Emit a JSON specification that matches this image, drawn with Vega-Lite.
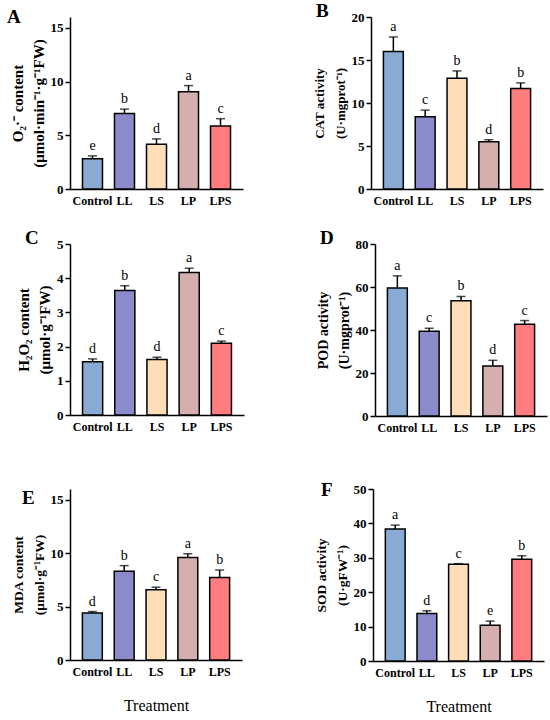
{
  "$schema": "https://vega.github.io/schema/vega-lite/v6.json",
  "padding": {"left": 7, "top": 2, "right": 4, "bottom": 4},
  "background": "white",
  "datasets": {
    "enzymes": [
      {"panel": "A", "treatment": "Control", "mean": 2.82, "upper": 3.08, "letter": "e"},
      {"panel": "A", "treatment": "LL", "mean": 7.02, "upper": 7.43, "letter": "b"},
      {"panel": "A", "treatment": "LS", "mean": 4.17, "upper": 4.66, "letter": "d"},
      {"panel": "A", "treatment": "LP", "mean": 9.05, "upper": 9.62, "letter": "a"},
      {"panel": "A", "treatment": "LPS", "mean": 5.87, "upper": 6.54, "letter": "c"},
      {"panel": "B", "treatment": "Control", "mean": 15.98, "upper": 17.68, "letter": "a"},
      {"panel": "B", "treatment": "LL", "mean": 8.39, "upper": 9.17, "letter": "c"},
      {"panel": "B", "treatment": "LS", "mean": 12.88, "upper": 13.73, "letter": "b"},
      {"panel": "B", "treatment": "LP", "mean": 5.49, "upper": 5.73, "letter": "d"},
      {"panel": "B", "treatment": "LPS", "mean": 11.68, "upper": 12.34, "letter": "b"},
      {"panel": "C", "treatment": "Control", "mean": 1.56, "upper": 1.64, "letter": "d"},
      {"panel": "C", "treatment": "LL", "mean": 3.64, "upper": 3.78, "letter": "b"},
      {"panel": "C", "treatment": "LS", "mean": 1.62, "upper": 1.69, "letter": "d"},
      {"panel": "C", "treatment": "LP", "mean": 4.17, "upper": 4.29, "letter": "a"},
      {"panel": "C", "treatment": "LPS", "mean": 2.1, "upper": 2.16, "letter": "c"},
      {"panel": "D", "treatment": "Control", "mean": 59.5, "upper": 65.2, "letter": "a"},
      {"panel": "D", "treatment": "LL", "mean": 39.4, "upper": 40.8, "letter": "c"},
      {"panel": "D", "treatment": "LS", "mean": 53.6, "upper": 55.6, "letter": "b"},
      {"panel": "D", "treatment": "LP", "mean": 23.3, "upper": 25.9, "letter": "d"},
      {"panel": "D", "treatment": "LPS", "mean": 42.7, "upper": 44.4, "letter": "c"},
      {"panel": "E", "treatment": "Control", "mean": 4.39, "upper": 4.53, "letter": "d"},
      {"panel": "E", "treatment": "LL", "mean": 8.3, "upper": 8.83, "letter": "b"},
      {"panel": "E", "treatment": "LS", "mean": 6.58, "upper": 6.81, "letter": "c"},
      {"panel": "E", "treatment": "LP", "mean": 9.59, "upper": 9.94, "letter": "a"},
      {"panel": "E", "treatment": "LPS", "mean": 7.72, "upper": 8.42, "letter": "b"},
      {"panel": "F", "treatment": "Control", "mean": 38.4, "upper": 39.5, "letter": "a"},
      {"panel": "F", "treatment": "LL", "mean": 13.8, "upper": 14.6, "letter": "d"},
      {"panel": "F", "treatment": "LS", "mean": 28.1, "upper": 28.3, "letter": "c"},
      {"panel": "F", "treatment": "LP", "mean": 10.4, "upper": 11.6, "letter": "e"},
      {"panel": "F", "treatment": "LPS", "mean": 29.6, "upper": 30.6, "letter": "b"}
    ]
  },
  "config": {
    "view": {"stroke": null},
    "font": "Liberation Serif",
    "axis": {
      "domainColor": "black",
      "domainWidth": 1.5,
      "tickColor": "black",
      "tickWidth": 1.5,
      "grid": false,
      "labelColor": "black",
      "titleColor": "black",
      "labelFont": "Liberation Serif",
      "titleFont": "Liberation Serif",
      "labelFontWeight": "bold"
    },
    "axisX": {"ticks": false, "labelAngle": 0, "labelFontSize": 12, "labelPadding": 6, "titleFontWeight": "normal", "titleFontSize": 16, "titlePadding": 20},
    "axisY": {"tickSize": 5, "labelFontSize": 13, "labelFontWeight": "bold", "labelColor": "black", "labelPadding": 2, "labelOverlap": false, "titleFontWeight": "bold", "titleLineHeight": 21, "titlePadding": 4},
    "text": {"color": "black"},
    "title": {"font": "Liberation Serif", "fontSize": 19, "fontWeight": "bold", "color": "black", "anchor": "start", "frame": "group", "baseline": "alphabetic"}
  },
  "spacing": 23,
  "vconcat": [
    {
      "spacing": 70,
      "hconcat": [
        {
          "width": 173, "height": 172,
          "data": {"name": "enzymes"},
          "transform": [{"filter": "datum.panel == 'A'"}],
          "title": {"text": "A", "dx": -63, "offset": -10},
          "encoding": {
            "x": {"field": "treatment", "type": "nominal", "sort": ["Control", "LL", "LS", "LP", "LPS"], "scale": {"paddingInner": 0.375, "paddingOuter": 0.39}, "axis": {"title": null}}
          },
          "layer": [
            {
              "mark": {"type": "bar", "stroke": "black", "strokeWidth": 1.5},
              "encoding": {
                "y": {"field": "mean", "type": "quantitative", "scale": {"domain": [0, 15]}, "axis": {"values": [0, 5, 10, 15], "labelFontWeight": "bold", "title": ["O₂·⁻ content", "(μmol·min⁻¹·g⁻¹FW)"], "titleFontSize": 15}},
                "color": {"field": "treatment", "type": "nominal", "scale": {"domain": ["Control", "LL", "LS", "LP", "LPS"], "range": ["#88AAD3", "#8B8BCC", "#FDDEB9", "#D5AEAE", "#FF7D7F"]}, "legend": null}
              }
            },
            {"mark": {"type": "rule", "strokeWidth": 1.5, "color": "black"}, "encoding": {"y": {"field": "mean", "type": "quantitative", "axis": {"values": [0, 5, 10, 15], "labelFontWeight": "bold", "title": ["O₂·⁻ content", "(μmol·min⁻¹·g⁻¹FW)"], "titleFontSize": 15}}, "y2": {"field": "upper"}}},
            {"mark": {"type": "tick", "thickness": 1.5, "size": 9, "color": "black"}, "encoding": {"y": {"field": "upper", "type": "quantitative", "axis": {"values": [0, 5, 10, 15], "labelFontWeight": "bold", "title": ["O₂·⁻ content", "(μmol·min⁻¹·g⁻¹FW)"], "titleFontSize": 15}}}},
            {"mark": {"type": "text", "fontSize": 14, "baseline": "alphabetic", "dy": -6, "color": "black"}, "encoding": {"y": {"field": "upper", "type": "quantitative", "axis": {"values": [0, 5, 10, 15], "labelFontWeight": "bold", "title": ["O₂·⁻ content", "(μmol·min⁻¹·g⁻¹FW)"], "titleFontSize": 15}}, "text": {"field": "letter"}}}
          ]
        },
        {
          "width": 172, "height": 172,
          "data": {"name": "enzymes"},
          "transform": [{"filter": "datum.panel == 'B'"}],
          "title": {"text": "B", "dx": -55, "offset": -10},
          "encoding": {
            "x": {"field": "treatment", "type": "nominal", "sort": ["Control", "LL", "LS", "LP", "LPS"], "scale": {"paddingInner": 0.375, "paddingOuter": 0.39}, "axis": {"title": null}}
          },
          "layer": [
            {
              "mark": {"type": "bar", "stroke": "black", "strokeWidth": 1.5},
              "encoding": {
                "y": {"field": "mean", "type": "quantitative", "scale": {"domain": [0, 20]}, "axis": {"values": [0, 5, 10, 15, 20], "labelFontWeight": "bold", "title": ["CAT activity", "(U·mgprot⁻¹)"], "titleFontSize": 13}},
                "color": {"field": "treatment", "type": "nominal", "scale": {"domain": ["Control", "LL", "LS", "LP", "LPS"], "range": ["#88AAD3", "#8B8BCC", "#FDDEB9", "#D5AEAE", "#FF7D7F"]}, "legend": null}
              }
            },
            {"mark": {"type": "rule", "strokeWidth": 1.5, "color": "black"}, "encoding": {"y": {"field": "mean", "type": "quantitative", "axis": {"values": [0, 5, 10, 15, 20], "labelFontWeight": "bold", "title": ["CAT activity", "(U·mgprot⁻¹)"], "titleFontSize": 13}}, "y2": {"field": "upper"}}},
            {"mark": {"type": "tick", "thickness": 1.5, "size": 9, "color": "black"}, "encoding": {"y": {"field": "upper", "type": "quantitative", "axis": {"values": [0, 5, 10, 15, 20], "labelFontWeight": "bold", "title": ["CAT activity", "(U·mgprot⁻¹)"], "titleFontSize": 13}}}},
            {"mark": {"type": "text", "fontSize": 14, "baseline": "alphabetic", "dy": -6, "color": "black"}, "encoding": {"y": {"field": "upper", "type": "quantitative", "axis": {"values": [0, 5, 10, 15, 20], "labelFontWeight": "bold", "title": ["CAT activity", "(U·mgprot⁻¹)"], "titleFontSize": 13}}, "text": {"field": "letter"}}}
          ]
        }
      ]
    },
    {
      "spacing": 48,
      "vconcat": [
        {
          "spacing": 72,
          "hconcat": [
            {
              "width": 174, "height": 171,
              "data": {"name": "enzymes"},
              "transform": [{"filter": "datum.panel == 'C'"}],
              "title": {"text": "C", "dx": -45, "offset": -10},
              "encoding": {
                "x": {"field": "treatment", "type": "nominal", "sort": ["Control", "LL", "LS", "LP", "LPS"], "scale": {"paddingInner": 0.375, "paddingOuter": 0.39}, "axis": {"title": null}}
              },
              "layer": [
                {
                  "mark": {"type": "bar", "stroke": "black", "strokeWidth": 1.5},
                  "encoding": {
                    "y": {"field": "mean", "type": "quantitative", "scale": {"domain": [0, 5]}, "axis": {"values": [0, 1, 2, 3, 4, 5], "labelFontWeight": "bold", "title": ["H₂O₂ content", "(μmol·g⁻¹FW)"], "titleFontSize": 15}},
                    "color": {"field": "treatment", "type": "nominal", "scale": {"domain": ["Control", "LL", "LS", "LP", "LPS"], "range": ["#88AAD3", "#8B8BCC", "#FDDEB9", "#D5AEAE", "#FF7D7F"]}, "legend": null}
                  }
                },
                {"mark": {"type": "rule", "strokeWidth": 1.5, "color": "black"}, "encoding": {"y": {"field": "mean", "type": "quantitative", "axis": {"values": [0, 1, 2, 3, 4, 5], "labelFontWeight": "bold", "title": ["H₂O₂ content", "(μmol·g⁻¹FW)"], "titleFontSize": 15}}, "y2": {"field": "upper"}}},
                {"mark": {"type": "tick", "thickness": 1.5, "size": 9, "color": "black"}, "encoding": {"y": {"field": "upper", "type": "quantitative", "axis": {"values": [0, 1, 2, 3, 4, 5], "labelFontWeight": "bold", "title": ["H₂O₂ content", "(μmol·g⁻¹FW)"], "titleFontSize": 15}}}},
                {"mark": {"type": "text", "fontSize": 14, "baseline": "alphabetic", "dy": -6, "color": "black"}, "encoding": {"y": {"field": "upper", "type": "quantitative", "axis": {"values": [0, 1, 2, 3, 4, 5], "labelFontWeight": "bold", "title": ["H₂O₂ content", "(μmol·g⁻¹FW)"], "titleFontSize": 15}}, "text": {"field": "letter"}}}
              ]
            },
            {
              "width": 172, "height": 172,
              "data": {"name": "enzymes"},
              "transform": [{"filter": "datum.panel == 'D'"}],
              "title": {"text": "D", "dx": -55, "offset": -10},
              "encoding": {
                "x": {"field": "treatment", "type": "nominal", "sort": ["Control", "LL", "LS", "LP", "LPS"], "scale": {"paddingInner": 0.375, "paddingOuter": 0.39}, "axis": {"title": null}}
              },
              "layer": [
                {
                  "mark": {"type": "bar", "stroke": "black", "strokeWidth": 1.5},
                  "encoding": {
                    "y": {"field": "mean", "type": "quantitative", "scale": {"domain": [0, 80]}, "axis": {"values": [0, 20, 40, 60, 80], "labelFontWeight": "bold", "title": ["POD activity", "(U·mgprot⁻¹)"], "titleFontSize": 14}},
                    "color": {"field": "treatment", "type": "nominal", "scale": {"domain": ["Control", "LL", "LS", "LP", "LPS"], "range": ["#88AAD3", "#8B8BCC", "#FDDEB9", "#D5AEAE", "#FF7D7F"]}, "legend": null}
                  }
                },
                {"mark": {"type": "rule", "strokeWidth": 1.5, "color": "black"}, "encoding": {"y": {"field": "mean", "type": "quantitative", "axis": {"values": [0, 20, 40, 60, 80], "labelFontWeight": "bold", "title": ["POD activity", "(U·mgprot⁻¹)"], "titleFontSize": 14}}, "y2": {"field": "upper"}}},
                {"mark": {"type": "tick", "thickness": 1.5, "size": 9, "color": "black"}, "encoding": {"y": {"field": "upper", "type": "quantitative", "axis": {"values": [0, 20, 40, 60, 80], "labelFontWeight": "bold", "title": ["POD activity", "(U·mgprot⁻¹)"], "titleFontSize": 14}}}},
                {"mark": {"type": "text", "fontSize": 14, "baseline": "alphabetic", "dy": -6, "color": "black"}, "encoding": {"y": {"field": "upper", "type": "quantitative", "axis": {"values": [0, 20, 40, 60, 80], "labelFontWeight": "bold", "title": ["POD activity", "(U·mgprot⁻¹)"], "titleFontSize": 14}}, "text": {"field": "letter"}}}
              ]
            }
          ]
        },
        {
          "spacing": 72,
          "hconcat": [
            {
              "width": 172, "height": 171,
              "data": {"name": "enzymes"},
              "transform": [{"filter": "datum.panel == 'E'"}],
              "title": {"text": "E", "dx": -48, "offset": -19},
              "encoding": {
                "x": {"field": "treatment", "type": "nominal", "sort": ["Control", "LL", "LS", "LP", "LPS"], "scale": {"paddingInner": 0.375, "paddingOuter": 0.39}, "axis": {"title": "Treatment"}}
              },
              "layer": [
                {
                  "mark": {"type": "bar", "stroke": "black", "strokeWidth": 1.5},
                  "encoding": {
                    "y": {"field": "mean", "type": "quantitative", "scale": {"domain": [0, 15]}, "axis": {"values": [0, 5, 10, 15], "labelFontWeight": "bold", "title": ["MDA content", "(μmol·g⁻¹FW)"], "titleFontSize": 13.5}},
                    "color": {"field": "treatment", "type": "nominal", "scale": {"domain": ["Control", "LL", "LS", "LP", "LPS"], "range": ["#88AAD3", "#8B8BCC", "#FDDEB9", "#D5AEAE", "#FF7D7F"]}, "legend": null}
                  }
                },
                {"mark": {"type": "rule", "strokeWidth": 1.5, "color": "black"}, "encoding": {"y": {"field": "mean", "type": "quantitative", "axis": {"values": [0, 5, 10, 15], "labelFontWeight": "bold", "title": ["MDA content", "(μmol·g⁻¹FW)"], "titleFontSize": 13.5}}, "y2": {"field": "upper"}}},
                {"mark": {"type": "tick", "thickness": 1.5, "size": 9, "color": "black"}, "encoding": {"y": {"field": "upper", "type": "quantitative", "axis": {"values": [0, 5, 10, 15], "labelFontWeight": "bold", "title": ["MDA content", "(μmol·g⁻¹FW)"], "titleFontSize": 13.5}}}},
                {"mark": {"type": "text", "fontSize": 14, "baseline": "alphabetic", "dy": -6, "color": "black"}, "encoding": {"y": {"field": "upper", "type": "quantitative", "axis": {"values": [0, 5, 10, 15], "labelFontWeight": "bold", "title": ["MDA content", "(μmol·g⁻¹FW)"], "titleFontSize": 13.5}}, "text": {"field": "letter"}}}
              ]
            },
            {
              "width": 171, "height": 172,
              "data": {"name": "enzymes"},
              "transform": [{"filter": "datum.panel == 'F'"}],
              "title": {"text": "F", "dx": -52, "offset": -17},
              "encoding": {
                "x": {"field": "treatment", "type": "nominal", "sort": ["Control", "LL", "LS", "LP", "LPS"], "scale": {"paddingInner": 0.375, "paddingOuter": 0.39}, "axis": {"title": "Treatment"}}
              },
              "layer": [
                {
                  "mark": {"type": "bar", "stroke": "black", "strokeWidth": 1.5},
                  "encoding": {
                    "y": {"field": "mean", "type": "quantitative", "scale": {"domain": [0, 50]}, "axis": {"values": [0, 10, 20, 30, 40, 50], "labelFontWeight": "bold", "title": ["SOD activity", "(U·gFW⁻¹)"], "titleFontSize": 13.5}},
                    "color": {"field": "treatment", "type": "nominal", "scale": {"domain": ["Control", "LL", "LS", "LP", "LPS"], "range": ["#88AAD3", "#8B8BCC", "#FDDEB9", "#D5AEAE", "#FF7D7F"]}, "legend": null}
                  }
                },
                {"mark": {"type": "rule", "strokeWidth": 1.5, "color": "black"}, "encoding": {"y": {"field": "mean", "type": "quantitative", "axis": {"values": [0, 10, 20, 30, 40, 50], "labelFontWeight": "bold", "title": ["SOD activity", "(U·gFW⁻¹)"], "titleFontSize": 13.5}}, "y2": {"field": "upper"}}},
                {"mark": {"type": "tick", "thickness": 1.5, "size": 9, "color": "black"}, "encoding": {"y": {"field": "upper", "type": "quantitative", "axis": {"values": [0, 10, 20, 30, 40, 50], "labelFontWeight": "bold", "title": ["SOD activity", "(U·gFW⁻¹)"], "titleFontSize": 13.5}}}},
                {"mark": {"type": "text", "fontSize": 14, "baseline": "alphabetic", "dy": -6, "color": "black"}, "encoding": {"y": {"field": "upper", "type": "quantitative", "axis": {"values": [0, 10, 20, 30, 40, 50], "labelFontWeight": "bold", "title": ["SOD activity", "(U·gFW⁻¹)"], "titleFontSize": 13.5}}, "text": {"field": "letter"}}}
              ]
            }
          ]
        }
      ]
    }
  ]
}
